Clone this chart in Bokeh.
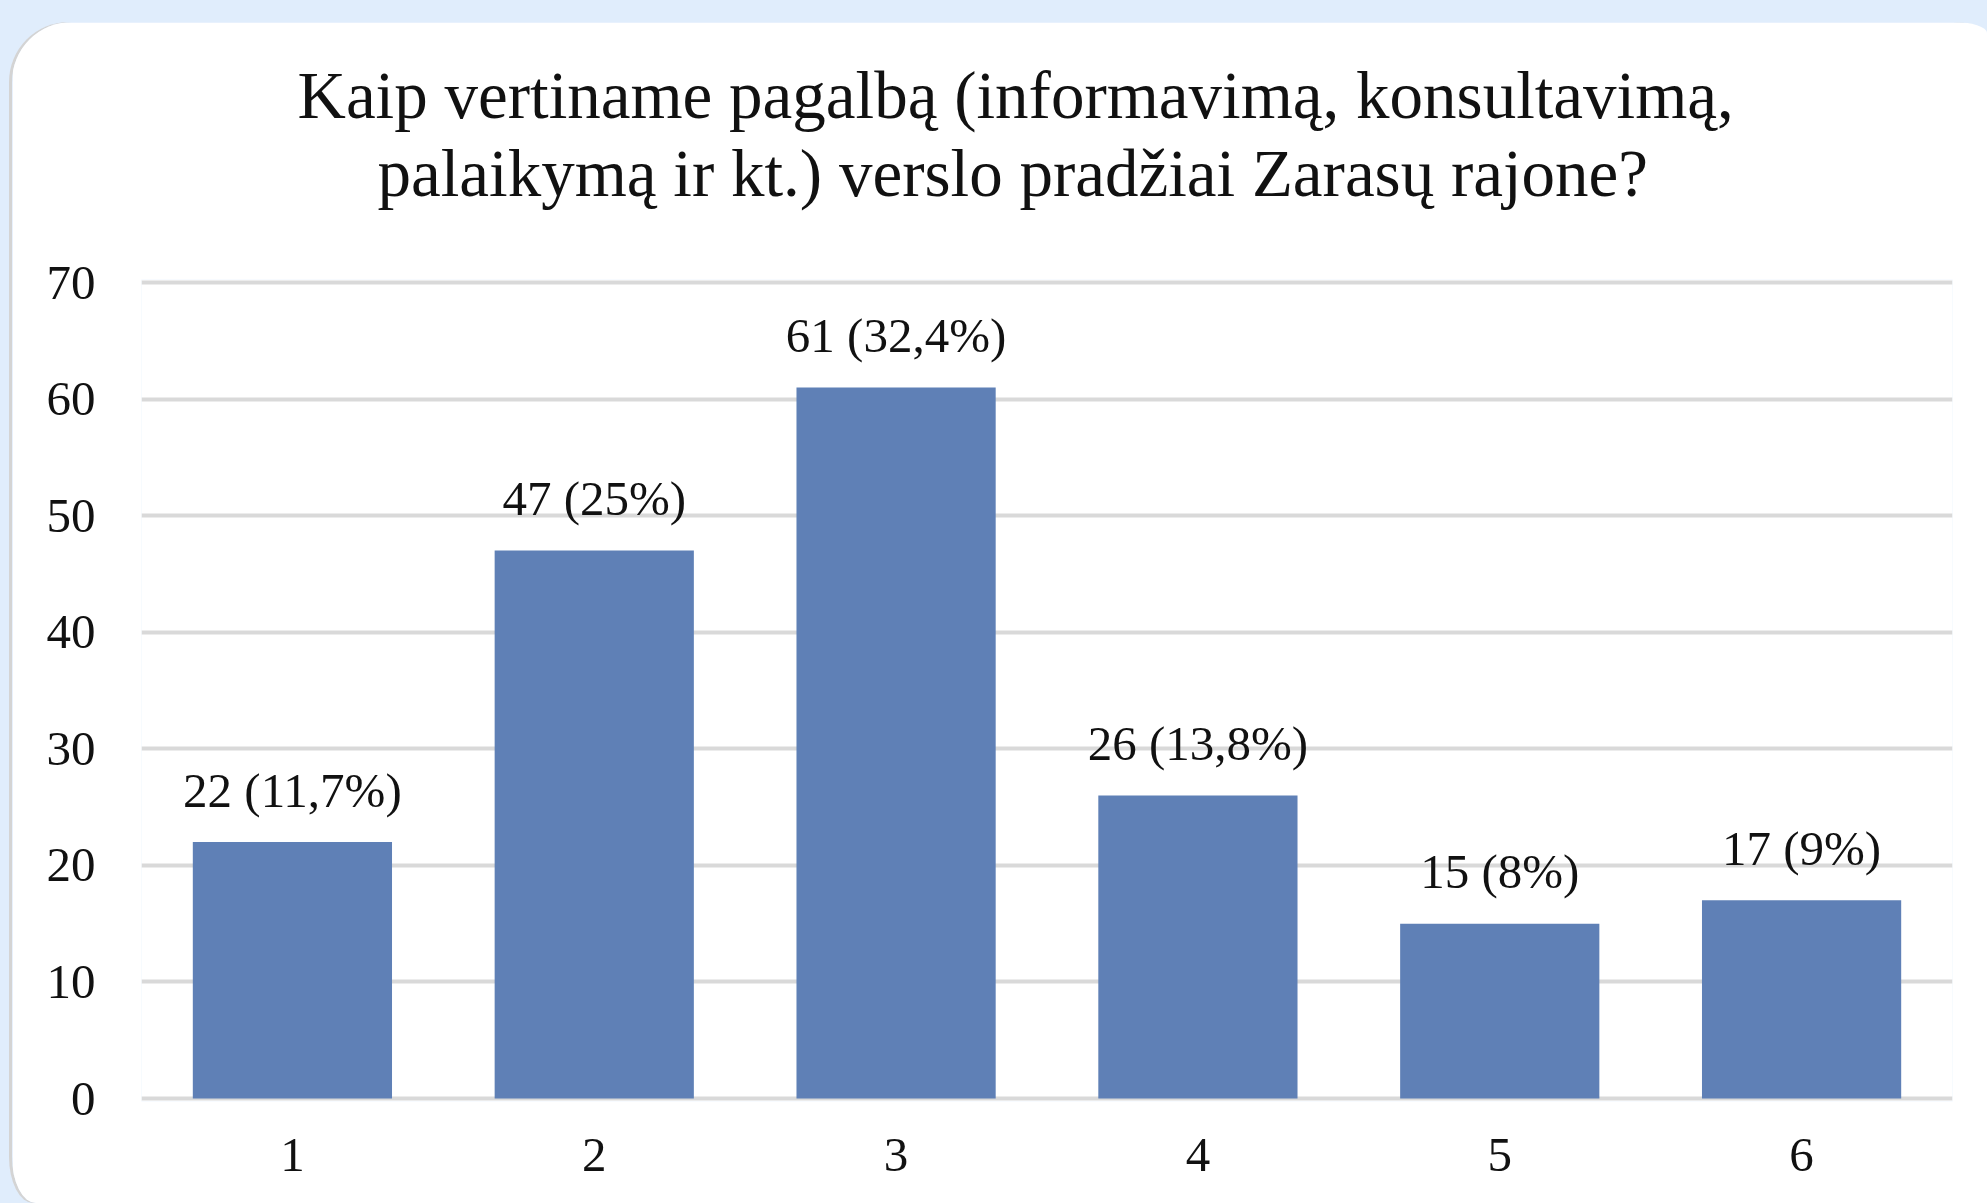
from bokeh.plotting import figure
from bokeh.models import Range1d, FixedTicker, ColumnDataSource, Title
from bokeh.embed import file_html
from bokeh.resources import INLINE
from bokeh.core.properties import value

# ---------------- data ----------------
title_lines = ["Kaip vertiname pagalbą (informavimą, konsultavimą,",
               "palaikymą ir kt.) verslo pradžiai Zarasų rajone?"]
categories = ["1", "2", "3", "4", "5", "6"]
counts = [22, 47, 61, 26, 15, 17]
percents = ["11,7%", "25%", "32,4%", "13,8%", "8%", "9%"]
y_ticks = [0, 10, 20, 30, 40, 50, 60, 70]

# ---------------- layout constants (canvas px) ----------------
W, H = 1975, 1181
PAD = 3                      # keeps the 0 and 70 grid lines fully visible
FL, FT, FW, FH = 129, 260 - PAD, 1811, 816 + 2 * PAD
X0, X1 = 0.5, 6.5
UNIT = 70 / 816              # data units per pixel on y
Y0, Y1 = 0 - PAD * UNIT, 70 + PAD * UNIT

FONT = "Liberation Serif"
TXT = "#111111"
BAR = "#5f80b6"
GRID = "#d9d9d9"
BG = "#e0edfc"

positions = list(range(1, len(categories) + 1))
label_gap = 52 * UNIT
labels = [f"{c} ({p})" for c, p in zip(counts, percents)]

src = ColumnDataSource(dict(x=positions, top=counts,
                            ly=[c + label_gap for c in counts], text=labels))

p = figure(width=W, height=H, output_backend="svg", toolbar_location=None,
           x_range=Range1d(X0, X1), y_range=Range1d(Y0, Y1),
           min_border_left=FL, min_border_right=W - FL - FW,
           min_border_top=FT, min_border_bottom=H - FT - FH)
p.border_fill_color = "white"
p.background_fill_color = "white"
p.outline_line_color = None
p.styles = {
    "margin-top": "22px",
    "margin-left": "12px",
    "border-top-left-radius": "60px",
    "border-top-right-radius": "34px 11px",
    "border-bottom-left-radius": "24px 46px",
    "overflow": "hidden",
    "box-shadow": "-3px 0 0 0 #d4d4d4",
}

p.vbar(x="x", top="top", width=0.66, bottom=0, source=src,
       fill_color=BAR, line_color=None)

p.text(x="x", y="ly", text="text", source=src, text_align="center",
       text_baseline="alphabetic", text_font=value(FONT),
       text_font_size=value("49px"), text_color=TXT)

# spacer between the plot area and the title block
p.add_layout(Title(text=" ", text_font_size="1px", standoff=65), "above")
# two title lines (second line is nearest to the plot)
title_offsets = [156, 236]
title_standoffs = [0, 4]
for line, off, so in reversed(list(zip(title_lines, title_offsets, title_standoffs))):
    p.add_layout(Title(text=line, align="left", offset=off, standoff=so,
                       text_font=FONT, text_font_size="67px",
                       text_font_style="normal", text_color=TXT), "above")

# axes
p.xaxis.ticker = FixedTicker(ticks=positions)
p.xaxis.major_label_overrides = {pos: c for pos, c in zip(positions, categories)}
p.yaxis.ticker = FixedTicker(ticks=y_ticks)
for ax in (p.xaxis[0], p.yaxis[0]):
    ax.axis_line_color = None
    ax.major_tick_line_color = None
    ax.minor_tick_line_color = None
    ax.major_tick_out = 0
    ax.major_tick_in = 0
    ax.major_label_text_font = FONT
    ax.major_label_text_font_size = "49px"
    ax.major_label_text_color = TXT
p.xaxis.major_label_standoff = 40 - PAD
p.yaxis.major_label_standoff = 46

p.xgrid.grid_line_color = None
p.ygrid.ticker = FixedTicker(ticks=y_ticks)
p.ygrid.grid_line_color = GRID
p.ygrid.grid_line_width = 4

html = file_html(p, INLINE)
html = html.replace("</head>", "<style>body{background:%s;}</style></head>" % BG, 1)
open("out.html", "w").write(html)
